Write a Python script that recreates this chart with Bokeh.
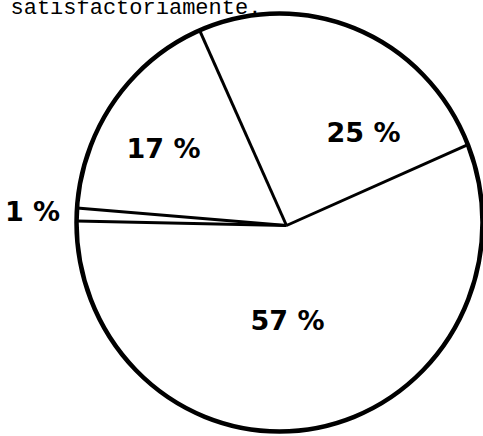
import numpy as np
from bokeh.plotting import figure
from bokeh.models import Range1d, ColumnDataSource
from bokeh.core.properties import value
from bokeh.embed import file_html
from bokeh.resources import INLINE

# ---- data ----
labels = ["25 %", "17 %", "1 %", "57 %"]
shares = [25, 17, 1, 57]
caption = "satisfactoriamente."

# ---- layout (pixel space of the picture, y measured up from the bottom) ----
W, H = 483, 436
start_deg = 24.0
pie_cx, pie_cy = 286, H - 225
ell_cx, ell_cy = 279, H - 222
ell_rx, ell_ry = 203, 209
label_x = [363, 163, 32, 287]
label_y = [H - 132, H - 148, H - 211, H - 320]

p = figure(width=W, height=H, output_backend="svg", toolbar_location=None,
           x_range=Range1d(0, W), y_range=Range1d(0, H),
           min_border=0, outline_line_color=None, background_fill_color="white")
p.axis.visible = False
p.grid.visible = False

fr = np.array(shares, dtype=float) / sum(shares)
ends = np.deg2rad(start_deg) + np.cumsum(fr) * 2 * np.pi
starts = ends - fr * 2 * np.pi

src = ColumnDataSource(dict(start=starts, end=ends, label=labels,
                            lx=label_x, ly=label_y))
p.wedge(x=pie_cx, y=pie_cy, radius=195, start_angle="start", end_angle="end",
        fill_color="white", line_color=None, source=src)

# ray endpoints: intersect each boundary ray with the hand-drawn ellipse
def hit(theta):
    dx, dy = np.cos(theta), np.sin(theta)
    ox, oy = pie_cx - ell_cx, pie_cy - ell_cy
    a = (dx / ell_rx) ** 2 + (dy / ell_ry) ** 2
    b = 2 * (ox * dx / ell_rx ** 2 + oy * dy / ell_ry ** 2)
    c = (ox / ell_rx) ** 2 + (oy / ell_ry) ** 2 - 1
    t = (-b + np.sqrt(b * b - 4 * a * c)) / (2 * a)
    return pie_cx + t * dx, pie_cy + t * dy

ex, ey = zip(*[hit(t) for t in starts])
p.segment(x0=[pie_cx] * len(ex), y0=[pie_cy] * len(ex), x1=list(ex), y1=list(ey),
          line_color="black", line_width=3)

p.ellipse(x=ell_cx, y=ell_cy, width=2 * ell_rx, height=2 * ell_ry,
          fill_color=None, line_color="black", line_width=4.5)

p.text(x="lx", y="ly", text="label", source=src, text_align="center",
       text_baseline="middle", text_font=value("DejaVu Sans"),
       text_font_style="bold", text_font_size="27px", text_color="black")

p.text(x=[10], y=[H - 8], text=[caption], text_align="left",
       text_baseline="alphabetic", text_font=value("Liberation Mono"),
       text_font_size="22px", text_color="black")

open("out.html", "w").write(file_html(p, INLINE))
